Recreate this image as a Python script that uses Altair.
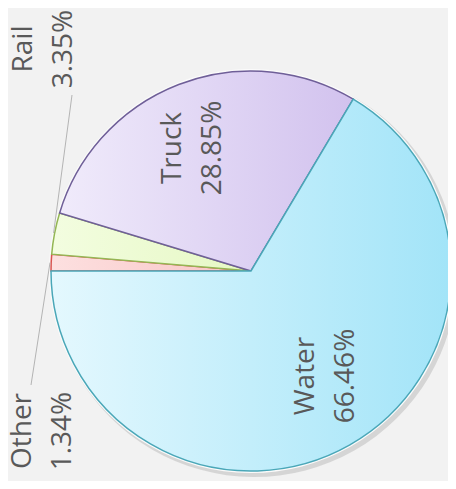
import math
import altair as alt
import pandas as pd

categories = ["Other", "Rail", "Truck", "Water"]
shares = [1.34, 3.35, 28.85, 66.46]
order = [0, 1, 2, 3]

df = pd.DataFrame({"category": categories, "share": shares, "order": order})

CX, CY, R = 243, 263, 200
theta_scale = alt.Scale(domain=[0, 100], range=[1.5 * math.pi, 3.5 * math.pi])

base = (
    alt.Chart(df)
    .transform_window(end="sum(share)", sort=[alt.SortField("order")], frame=[None, 0])
    .transform_calculate(start="datum.end - datum.share",
                         pct="format(datum.share, '.2f') + '%'")
)

def grad(c1, c2):
    return alt.Gradient(gradient="linear",
                        stops=[alt.GradientStop(color=c1, offset=0),
                               alt.GradientStop(color=c2, offset=1)],
                        x1=0, x2=1, y1=0, y2=0)

styles = {
    "Other": (grad("#fde0e0", "#f8c4c4"), "#d9534f"),
    "Rail": (grad("#f3fde0", "#e6f8c4"), "#94b654"),
    "Truck": (grad("#f0ebfb", "#d2c2ee"), "#6f5f98"),
    "Water": (grad("#e4f8fe", "#a2e4f8"), "#4aa7b8"),
}

enc = dict(theta=alt.Theta("start:Q", scale=theta_scale), theta2="end:Q")

shadow = base.mark_arc(radius=R + 3, fill="#bdbdbd", opacity=0.55, stroke=None).encode(
    x=alt.value(CX + 3), y=alt.value(CY + 3), **enc)
rim = base.mark_arc(radius=R + 2, fill="#fbfbfb", stroke=None).encode(
    x=alt.value(CX), y=alt.value(CY), **enc)

layers = [shadow, rim]
for c in categories:
    fill, stroke = styles[c]
    layers.append(
        base.transform_filter(alt.datum.category == c)
        .mark_arc(radius=R, fill=fill, stroke=stroke, strokeWidth=1.5)
        .encode(x=alt.value(CX), y=alt.value(CY), **enc)
    )

# leader lines for the small slices
leaders = [
    ("Rail", 64, 87, 45.6, 225),
    ("Other", 23, 377, 42, 254.6),
]
for c, x1, y1, x2, y2 in leaders:
    layers.append(
        base.transform_filter(alt.datum.category == c)
        .mark_rule(color="#b4b4b4", strokeWidth=1)
        .encode(x=alt.value(x1), y=alt.value(y1), x2=alt.value(x2), y2=alt.value(y2))
    )

label_pos = {"Truck": (165, 140), "Water": (298, 368), "Rail": (16, 41), "Other": (15, 423)}
LINE = 40
for c in categories:
    lx, ly = label_pos[c]
    for field, off in (("category", 0), ("pct", LINE)):
        layers.append(
            base.transform_filter(alt.datum.category == c)
            .mark_text(angle=270, align="center", baseline="middle", fontSize=28,
                       font="Open Sans", color="#595959")
            .encode(x=alt.value(lx + off), y=alt.value(ly), text=alt.Text(f"{field}:N"))
        )

chart = (
    alt.layer(*layers)
    .properties(width=440, height=473, padding=0, background="#f2f2f2",
                autosize=alt.AutoSizeParams(type="none"))
    .configure_view(stroke=None)
)

chart.save("out.html", embed_options={"renderer": "svg", "actions": False})
